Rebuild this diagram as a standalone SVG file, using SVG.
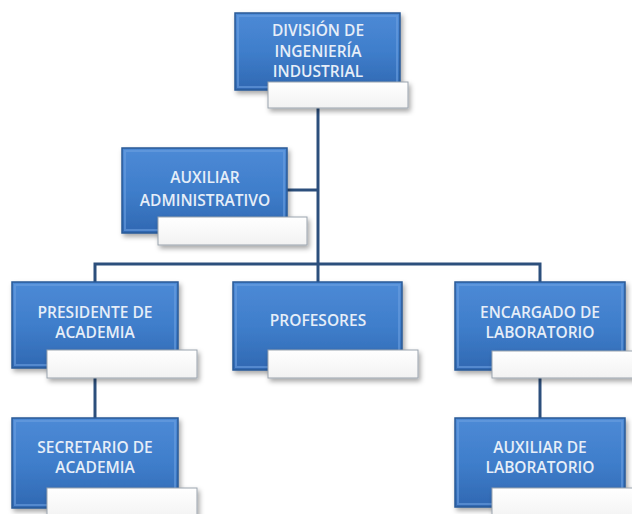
<svg xmlns="http://www.w3.org/2000/svg" width="632" height="514" viewBox="0 0 632 514">
<defs>
<linearGradient id="bg" x1="0" y1="0" x2="0" y2="1">
<stop offset="0" stop-color="#4d8ad6"/>
<stop offset="0.5" stop-color="#3f7ecb"/>
<stop offset="1" stop-color="#3068b2"/>
</linearGradient>
<linearGradient id="wg" x1="0" y1="0" x2="0" y2="1">
<stop offset="0" stop-color="#ffffff"/>
<stop offset="1" stop-color="#f2f2f2"/>
</linearGradient>
<filter id="sh" x="-10%" y="-10%" width="130%" height="140%">
<feDropShadow dx="2" dy="3" stdDeviation="2.5" flood-color="#000" flood-opacity="0.35"/>
</filter>
</defs>
<style>
.box{fill:url(#bg);stroke:#2a5a96;stroke-width:1.5;filter:url(#sh)}
.bev{fill:none;stroke:#6a9ee0;stroke-width:2;opacity:0.6}
.sub{fill:url(#wg);stroke:#9aa3ad;stroke-width:1;filter:url(#sh)}
.t{font-family:"Open Sans","Liberation Sans",sans-serif;font-size:15.5px;font-weight:600;fill:#e6eef8;text-anchor:middle}
.c{fill:none;stroke:#2c4f7c;stroke-width:3}
</style>
<rect width="632" height="514" fill="#ffffff"/>
<g id="connectors">
<path class="c" d="M318 108 V264"/>
<path class="c" d="M287 190 H318"/>
<path class="c" d="M95 282 V264 H540 V282"/>
<path class="c" d="M318 264 V282"/>
<path class="c" d="M95 378 V418"/>
<path class="c" d="M540 378 V418"/>
</g>
<g id="division">
<rect class="box" x="235" y="13" width="165" height="77"/>
<rect class="bev" x="238" y="16" width="159" height="71"/>
<rect class="sub" x="268" y="82" width="140" height="26"/>
<text class="t" x="318" y="36">DIVISIÓN DE</text>
<text class="t" x="318" y="57">INGENIERÍA</text>
<text class="t" x="318" y="77">INDUSTRIAL</text>
</g>
<g id="auxiliar-admin">
<rect class="box" x="122" y="148" width="165" height="85"/>
<rect class="bev" x="125" y="151" width="159" height="79"/>
<rect class="sub" x="158" y="217" width="149" height="28"/>
<text class="t" x="205" y="183">AUXILIAR</text>
<text class="t" x="205" y="206">ADMINISTRATIVO</text>
</g>
<g id="presidente">
<rect class="box" x="12" y="282" width="166" height="86"/>
<rect class="bev" x="15" y="285" width="160" height="80"/>
<rect class="sub" x="47" y="350" width="150" height="28"/>
<text class="t" x="95" y="318">PRESIDENTE DE</text>
<text class="t" x="95" y="338">ACADEMIA</text>
</g>
<g id="profesores">
<rect class="box" x="233" y="282" width="169" height="88"/>
<rect class="bev" x="236" y="285" width="163" height="82"/>
<rect class="sub" x="268" y="350" width="150" height="28"/>
<text class="t" x="318" y="326">PROFESORES</text>
</g>
<g id="encargado">
<rect class="box" x="455" y="282" width="170" height="88"/>
<rect class="bev" x="458" y="285" width="164" height="82"/>
<rect class="sub" x="492" y="351" width="146" height="27"/>
<text class="t" x="540" y="318">ENCARGADO DE</text>
<text class="t" x="540" y="338">LABORATORIO</text>
</g>
<g id="secretario">
<rect class="box" x="12" y="418" width="166" height="90"/>
<rect class="bev" x="15" y="421" width="160" height="84"/>
<rect class="sub" x="47" y="488" width="150" height="32"/>
<text class="t" x="95" y="453">SECRETARIO DE</text>
<text class="t" x="95" y="473">ACADEMIA</text>
</g>
<g id="auxiliar-lab">
<rect class="box" x="455" y="418" width="170" height="89"/>
<rect class="bev" x="458" y="421" width="164" height="83"/>
<rect class="sub" x="492" y="488" width="146" height="32"/>
<text class="t" x="540" y="453">AUXILIAR DE</text>
<text class="t" x="540" y="473">LABORATORIO</text>
</g>
</svg>
